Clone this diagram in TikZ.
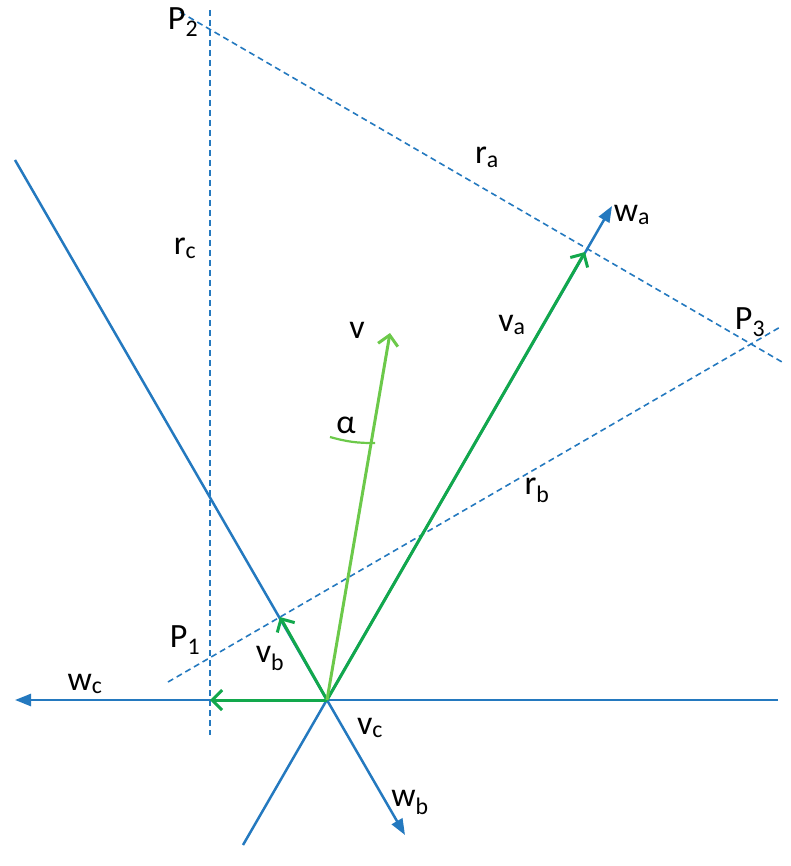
\documentclass[tikz,border=0pt]{standalone}
\usepackage{fontspec}
\setmainfont{Carlito}
\usetikzlibrary{arrows.meta}
\definecolor{axisblue}{HTML}{2479BF}
\definecolor{vecgreen}{HTML}{12A84C}
\definecolor{lightgreen}{HTML}{6CC94A}
\tikzset{
  axis/.style={axisblue, line width=2.5pt},
  axisarrow/.style={axis, -{Triangle[length=16pt,width=12pt]}},
  rline/.style={axisblue, line width=1.6pt, dash pattern=on 6pt off 4pt},
  vec/.style={vecgreen, line width=3pt, -{Straight Barb[length=10pt,width=20pt]}},
  lbl/.style={font=\fontsize{34}{34}\selectfont, inner sep=0pt}
}
\begin{document}
\begin{tikzpicture}[x=1pt,y=-1pt]
  \useasboundingbox (0,0) rectangle (791,866);

  \coordinate (O) at (327,700);
  \coordinate (A) at (585,252);
  \coordinate (B) at (280,617);
  \coordinate (C) at (210,700);
  \coordinate (V) at (390,333);

  % lines r
  \draw[rline] (210,10) -- (210,735);
  \draw[rline] (180,12) -- (782,362);
  \draw[rline] (168,682) -- (782,326);

  % axes w
  \draw[axisarrow] (778,700) -- (15,700);
  \draw[axisarrow] (243,845) -- (612,206);
  \draw[axis] (15,160) -- (O);
  \draw[axisarrow] (O) -- (405,835);

  % vectors
  \draw[vec] (O) -- (A);
  \draw[vec] (O) -- (B);
  \draw[vec] (O) -- (C);
  \draw[vec, lightgreen] (O) -- (V);
  \draw[lightgreen, line width=2.2pt] (330,437) to[bend right=8] (375,443);

  % labels
  \node[lbl] (p2) at (183,22) {P\textsubscript{2}};
  \node[lbl] (p3) at (750,322) {P\textsubscript{3}};
  \node[lbl] (p1) at (185,640) {P\textsubscript{1}};
  \node[lbl] (ra) at (487,157) {r\textsubscript{a}};
  \node[lbl] (rb) at (537,490) {r\textsubscript{b}};
  \node[lbl] (rc) at (185,248) {r\textsubscript{c}};
  \node[lbl] (wa) at (632,215) {w\textsubscript{a}};
  \node[lbl] (wb) at (410,802) {w\textsubscript{b}};
  \node[lbl] (wc) at (85,684) {w\textsubscript{c}};
  \node[lbl] (va) at (512,325) {v\textsubscript{a}};
  \node[lbl] (vb) at (270,658) {v\textsubscript{b}};
  \node[lbl] (vc) at (370,728) {v\textsubscript{c}};
  \node[lbl] (v) at (357,330) {v};
  \node[lbl] (al) at (346,425) {α};
\end{tikzpicture}
\end{document}
